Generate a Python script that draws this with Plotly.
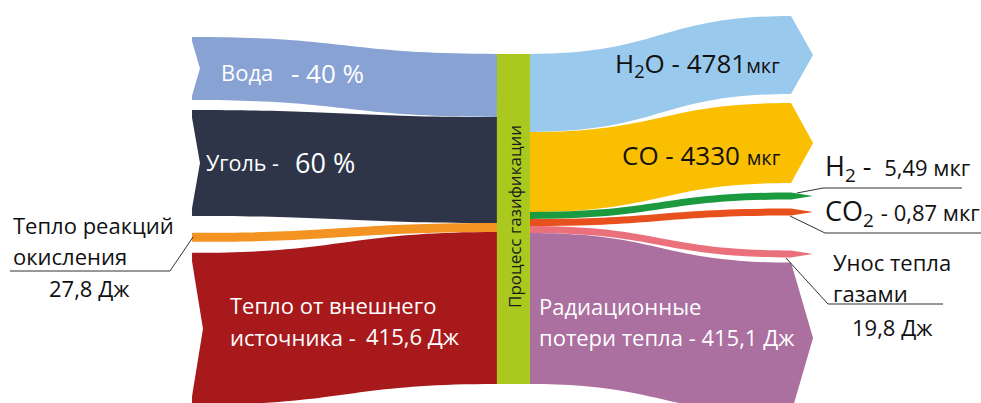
import plotly.graph_objects as go

# ---------------- data ----------------
in_names = ["Вода", "Уголь", "Тепло реакций окисления", "Тепло от внешнего источника"]
in_value_labels = ["40 %", "60 %", "27,8 Дж", "415,6 Дж"]
in_band = [63, 106, 9, 152]          # visual band thickness

center_name = "Процесс газификации"

out_names = ["H2O", "CO", "H2", "CO2", "Унос тепла газами", "Радиационные потери тепла"]
out_value_labels = ["4781", "4330", "5,49", "0,87", "19,8 Дж", "415,1 Дж"]
out_band = [78, 80, 7, 7, 7, 151]    # visual band thickness

in_colors = ["#87A2D3", "#2E3549", "#F39322", "#A8191C"]
center_color = "#AAC81E"
out_colors = ["#99CAEE", "#FABF00", "#1B9A40", "#E8511D", "#EA717B", "#AB6FA0"]

W, H = 981, 403
THICK = 33


def X(px):
    return px / W


def Y(py):
    return 1 - py / H


# node positions (normalized centers)
in_x = [0.1962] * 4            # thin tail nodes, band starts at ~193 px
in_y = [0.170, 0.4045, 0.589, 0.816]
center_x = 0.5234
center_y = 0.5434
center_x_left = 0.5071         # thin hidden node at the left edge of the bar
out_x = [0.8456] * 6
out_y = [0.1365, 0.3548, 0.4864, 0.526, 0.630, 0.839]

S = sum(in_band)

# left part: inputs -> gasification (no arrows)
left = go.Sankey(
    arrangement="fixed",
    domain=dict(x=[0, 1], y=[0, 1]),
    node=dict(
        label=[""] * 5,
        customdata=in_names + [center_name],
        color=in_colors + [center_color],
        thickness=1,
        pad=(H - S) / 3,
        line=dict(width=0),
        x=in_x + [center_x_left],
        y=in_y + [center_y],
        hoverinfo="none",
    ),
    link=dict(
        source=[0, 1, 2, 3],
        target=[4, 4, 4, 4],
        value=in_band,
        color=in_colors,
        hoverinfo="none",
    ),
)

# right part: gasification -> outputs (with arrow heads)
right = go.Sankey(
    arrangement="fixed",
    domain=dict(x=[0, 1], y=[0, 1]),
    node=dict(
        label=[""] * 7,
        customdata=[center_name] + out_names,
        color=[center_color] + ["rgba(0,0,0,0)"] * 6,
        thickness=THICK,
        pad=(H - S) / 5,
        line=dict(width=0),
        x=[center_x] + out_x,
        y=[center_y] + out_y,
        hoverinfo="none",
    ),
    link=dict(
        source=[0] * 6,
        target=[1, 2, 3, 4, 5, 6],
        value=out_band,
        color=out_colors,
        arrowlen=22,
        hoverinfo="none",
    ),
)

fig = go.Figure([left, right])

FONT = "Open Sans"
ann = []


def text(px, py, s, size, color="#111", xanchor="left", angle=0):
    ann.append(dict(
        x=X(px), y=Y(py), xref="paper", yref="paper", text=s, showarrow=False,
        xanchor=xanchor, yanchor="middle", textangle=angle,
        font=dict(family=FONT, size=size, color=color),
    ))


# inputs
text(219, 72, in_names[0], 22, "white")
text(289, 73, "- " + in_value_labels[0], 26, "white")
text(204, 162, in_names[1] + " -", 21.5, "white")
text(293, 162, in_value_labels[1], 27, "white")
text(11, 225, "Тепло реакций", 22)
text(11, 256, "окисления", 22)
text(89, 288, in_value_labels[2], 22, xanchor="center")
text(228, 305, "Тепло от внешнего", 22, "white")
text(228, 337, "источника -", 22, "white")
text(413, 336, in_value_labels[3], 22, "white", xanchor="center")

# center
text(514, 217, center_name, 17, "#1a1a1a", xanchor="center", angle=-90)

# outputs
sm = "<span style='font-size:20px'>мкг</span>"
text(613, 64, "H<sub>2</sub>O - " + out_value_labels[0] + sm, 26)
text(620, 155, "CO - " + out_value_labels[1] + " " + sm, 26)
text(823, 168, "H<sub>2</sub> - <span style='font-size:22px'> " + out_value_labels[2] + " мкг</span>", 27)
text(823, 212, "CO<sub>2</sub> <span style='font-size:22px'>- " + out_value_labels[3] + " мкг</span>", 27)
text(831, 262, "Унос тепла", 22)
text(831, 293, "газами", 22)
text(892, 327, out_value_labels[4], 22, xanchor="center")
text(537, 306, "Радиационные", 22, "white")
text(537, 337, "потери тепла - " + out_value_labels[5], 22, "white")

shapes = [
    # highlight box behind 415,6 Дж
    dict(type="rect", xref="paper", yref="paper", x0=X(356), x1=X(471), y0=Y(352), y1=Y(318),
         fillcolor="#B20000", line=dict(width=0), layer="below"),
]

# chevron notches cut into the tails of the wide input bands (derived from node geometry)
for i in (0, 1, 3):
    x0 = in_x[i] * W - 2
    yc = in_y[i] * H
    top, bot = yc - in_band[i] / 2 - 1, yc + in_band[i] / 2 + 1
    depth = 8 if in_band[i] < 120 else 11
    path = "M {},{} L {},{} L {},{} Z".format(
        X(x0), Y(top), X(x0 + 1.5 + depth), Y(yc), X(x0), Y(bot))
    shapes.append(dict(type="path", xref="paper", yref="paper", path=path,
                       fillcolor="white", line=dict(width=0), layer="above"))


def poly(points):
    for (a, b), (c, d) in zip(points[:-1], points[1:]):
        shapes.append(dict(type="line", xref="paper", yref="paper",
                           x0=X(a), y0=Y(b), x1=X(c), y1=Y(d),
                           line=dict(color="#333", width=1)))


poly([(193, 237), (170, 271), (10, 271)])
poly([(797, 193), (823, 188), (962, 188)])
poly([(790, 216), (825, 233), (981, 233)])
poly([(786, 258), (828, 304), (943, 304)])

fig.update_layout(
    width=W, height=H,
    margin=dict(l=0, r=0, t=0, b=0),
    paper_bgcolor="white", plot_bgcolor="white",
    annotations=ann, shapes=shapes,
    showlegend=False,
)

fig.write_html("out.html", config={"displayModeBar": False},
               post_script="document.body.style.margin='0';")
